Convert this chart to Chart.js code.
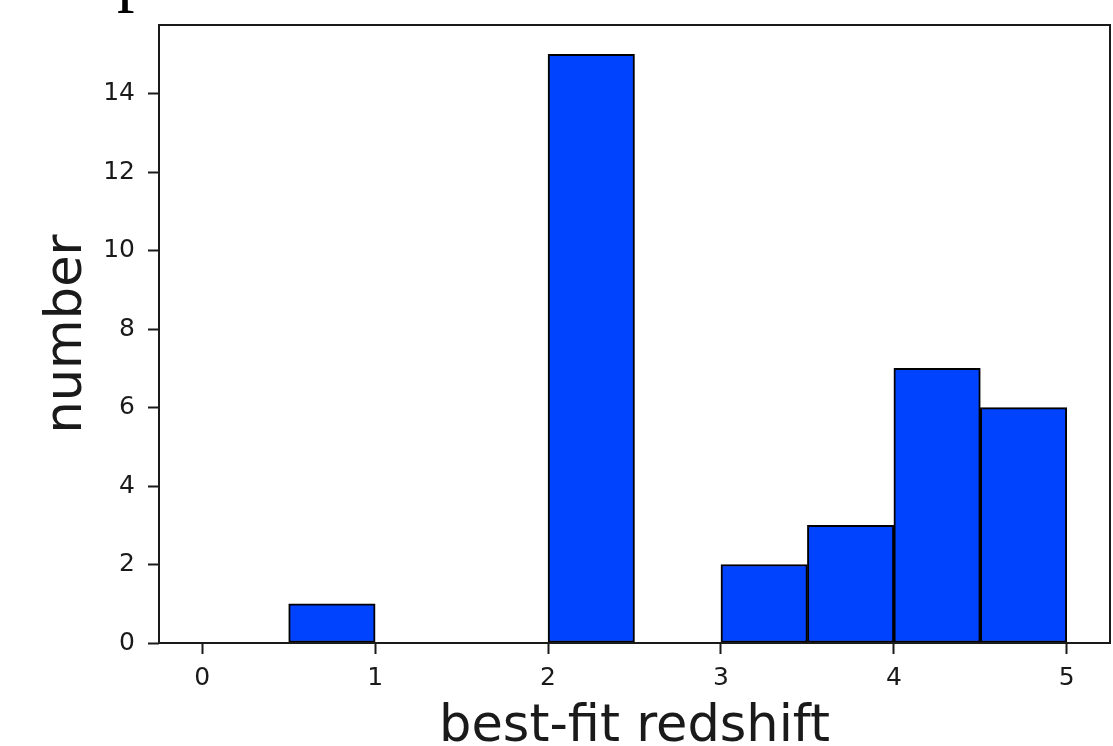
<!DOCTYPE html>
<html>
<head>
<meta charset="utf-8">
<script src="https://cdn.jsdelivr.net/npm/chart.js@4/dist/chart.umd.min.js"></script>
<style>
  html, body { margin: 0; padding: 0; background: #ffffff; }
  #wrap { width: 1113px; height: 746px; position: relative; }
</style>
</head>
<body>
<div id="wrap"><canvas id="c"></canvas></div>
<script>
// ---- data ----
const binEdges = [0, 0.5, 1, 1.5, 2, 2.5, 3, 3.5, 4, 4.5, 5];
const counts   = [0, 1, 0, 0, 15, 0, 2, 3, 7, 6];
const xTicks   = [0, 1, 2, 3, 4, 5];
const yTicks   = [0, 2, 4, 6, 8, 10, 12, 14];
const xLabel   = 'best-fit redshift';
const yLabel   = 'number';
const topText  = 'p';

const barData = counts.map((c, i) => ({ x: (binEdges[i] + binEdges[i + 1]) / 2, y: c }));

const INK = '#1a1a1a';

const framePlugin = {
  id: 'frame',
  afterDatasetsDraw(chart) {
    const { ctx, chartArea: a } = chart;
    ctx.save();
    ctx.strokeStyle = INK;
    ctx.lineWidth = 2;
    ctx.strokeRect(a.left, a.top, a.right - a.left, a.bottom - a.top);
    ctx.restore();
  }
};

const topTextPlugin = {
  id: 'topText',
  afterDraw(chart) {
    const { ctx } = chart;
    ctx.save();
    ctx.fillStyle = '#000';
    ctx.font = '70px "Liberation Serif"';
    ctx.textBaseline = 'alphabetic';
    ctx.textAlign = 'left';
    ctx.fillText(topText, 117, -2);
    ctx.restore();
  }
};

new Chart(document.getElementById('c'), {
  type: 'bar',
  data: {
    datasets: [{
      data: barData,
      backgroundColor: '#0043ff',
      borderColor: '#000000',
      borderWidth: 2,
      borderSkipped: false,
      categoryPercentage: 1.0,
      barPercentage: 1.0
    }]
  },
  options: {
    responsive: true,
    maintainAspectRatio: false,
    animation: false,
    layout: { padding: { top: 25, right: 3, left: 0, bottom: 0 } },
    plugins: { legend: { display: false }, tooltip: { enabled: false } },
    scales: {
      x: {
        type: 'linear',
        offset: false,
        min: -0.25,
        max: 5.25,
        afterBuildTicks: (s) => { s.ticks = xTicks.map(v => ({ value: v })); },
        afterFit: (s) => { s.height = 103; s.paddingLeft = 0; s.paddingRight = 0; },
        grid: { display: true, offset: false, drawOnChartArea: false, drawTicks: true, tickLength: 11, tickWidth: 2, tickColor: INK },
        border: { display: false },
        ticks: { color: INK, font: { family: 'DejaVu Sans', size: 25 }, padding: 9, maxRotation: 0, autoSkip: false },
        title: { display: true, text: xLabel, color: INK, font: { family: 'DejaVu Sans', size: 51, lineHeight: 0.7 }, padding: { top: 0, bottom: 0 } }
      },
      y: {
        type: 'linear',
        min: 0,
        max: 15.75,
        afterBuildTicks: (s) => { s.ticks = yTicks.map(v => ({ value: v })); },
        afterFit: (s) => { s.width = 159; s.paddingTop = 0; s.paddingBottom = 0; },
        grid: { display: true, drawOnChartArea: false, drawTicks: true, tickLength: 11, tickWidth: 2, tickColor: INK },
        border: { display: false },
        ticks: { color: INK, font: { family: 'DejaVu Sans', size: 25 }, padding: 13, autoSkip: false },
        title: { display: true, text: yLabel, color: INK, font: { family: 'DejaVu Sans', size: 51, lineHeight: 0.7 }, padding: { top: 50, bottom: 0 } }
      }
    }
  },
  plugins: [framePlugin, topTextPlugin]
});
</script>
</body>
</html>
